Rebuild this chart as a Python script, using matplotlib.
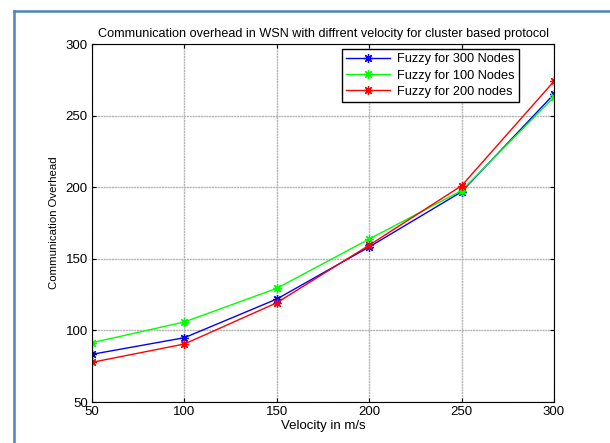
import matplotlib
matplotlib.use('Agg')
import matplotlib.pyplot as plt
from matplotlib.lines import Line2D

# data
velocity = [50, 100, 150, 200, 250, 300]
fuzzy_300 = [83.3, 94.9, 121.9, 158.3, 196.8, 265]
fuzzy_100 = [91.4, 105.9, 129.4, 163.8, 197.6, 263]
fuzzy_200 = [77.7, 90.5, 119.3, 159.5, 201, 274]

x_ticks = [50, 100, 150, 200, 250, 300]
y_ticks = [50, 100, 150, 200, 250, 300]

W, H = 610, 443
plt.rcParams['font.family'] = ['Liberation Sans', 'DejaVu Sans']
fig = plt.figure(figsize=(W / 100, H / 100), dpi=100)

# axes box in pixels
left, right, top, bottom = 92, 554, 44, 402
ax = fig.add_axes([left / W, 1 - bottom / H, (right - left) / W, (bottom - top) / H])

star = (8, 2, 0)  # asterisk marker like matlab's '*'
ax.plot(velocity, fuzzy_300, color='#0000ff', marker=star, markersize=6.5, markeredgewidth=0.9,
        linewidth=1, label='Fuzzy for 300 Nodes')
ax.plot(velocity, fuzzy_100, color='#00ff00', marker=star, markersize=6.5, markeredgewidth=0.9,
        linewidth=1, label='Fuzzy for 100 Nodes')
ax.plot(velocity, fuzzy_200, color='#ff0000', marker=star, markersize=6.5, markeredgewidth=0.9,
        linewidth=1, label='Fuzzy for 200 nodes')

ax.set_xlim(50, 300)
ax.set_ylim(50, 300)
ax.set_xticks(x_ticks)
ax.set_yticks(y_ticks)
ax.tick_params(direction='in', top=True, right=True, labelsize=9.5, length=3, width=0.8, pad=3)
ax.grid(True, color='#b4b4b4', linestyle=(0, (1.5, 0.5)), linewidth=1.0)
for s in ax.spines.values():
    s.set_linewidth(0.8)

ax.set_title('Communication overhead in WSN with diffrent velocity for cluster based protocol',
             fontsize=9.1, pad=5)
ax.set_xlabel('Velocity in m/s', fontsize=9.5, labelpad=1)
ax.set_ylabel('Communication Overhead', fontsize=8.2, labelpad=5)

leg = ax.legend(loc='upper right', bbox_to_anchor=(0.925, 0.986), fontsize=9.2, fancybox=False,
                framealpha=1, edgecolor='black', borderpad=0.35, labelspacing=0.32,
                handlelength=3.4, handletextpad=0.6, borderaxespad=0)
leg.get_frame().set_linewidth(1.0)

# blue frame lines at the left and top of the picture
fig.add_artist(Line2D([13.5 / W, 13.5 / W], [0, 1 - 10.5 / H], transform=fig.transFigure,
                      color='#4f81bd', linewidth=1.8))
fig.add_artist(Line2D([13.5 / W, 1], [1 - 10.5 / H, 1 - 10.5 / H], transform=fig.transFigure,
                      color='#4f81bd', linewidth=1.8))

fig.savefig('out.png', dpi=100)
